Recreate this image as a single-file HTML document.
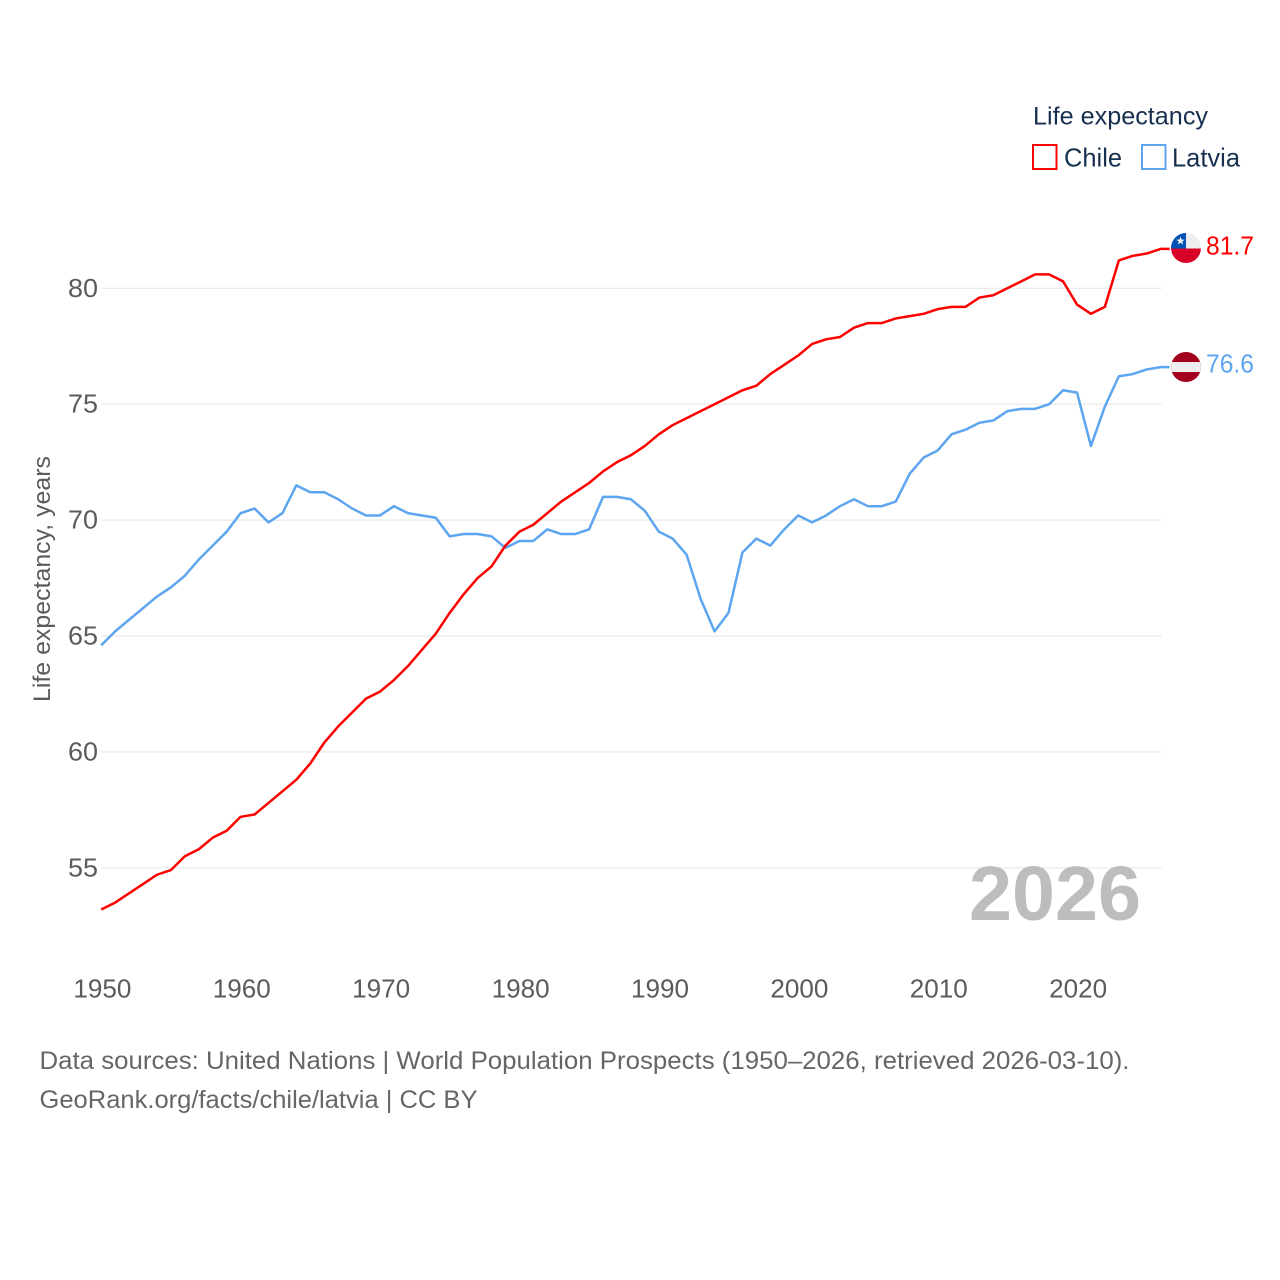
<!DOCTYPE html>
<html lang="en">
<head>
<meta charset="utf-8">
<title>Life expectancy: Chile and Latvia</title>
<style>
html,body{margin:0;padding:0;background:#fff;}
svg{display:block;font-family:"Liberation Sans",sans-serif;}
</style>
</head>
<body>
<svg id="chart" xmlns="http://www.w3.org/2000/svg" width="1280" height="1280" viewBox="0 0 1280 1280">
  <rect width="1280" height="1280" fill="#fff"/>
  <g id="grid"></g>
  <g id="yticks"></g>
  <g id="xticks"></g>
  <text transform="translate(50,702) rotate(-90)" font-size="24.5" fill="#5b5b5b" textLength="246" lengthAdjust="spacingAndGlyphs">Life expectancy, years</text>
  <text x="969" y="920" font-size="77" font-weight="700" fill="#bdbdbd" textLength="172" lengthAdjust="spacingAndGlyphs">2026</text>
  <g id="series"></g>

  <g>
    <text x="1033" y="124.5" font-size="25" fill="#18304f" textLength="175" lengthAdjust="spacingAndGlyphs">Life expectancy</text>
    <g>
      <rect x="1033" y="145" width="23.5" height="24" fill="none" stroke="#ff0000" stroke-width="2"/>
      <text x="1064" y="166.5" font-size="26" fill="#18304f" textLength="58" lengthAdjust="spacingAndGlyphs">Chile</text>
    </g>
    <g>
      <rect x="1142" y="145" width="23.5" height="24" fill="none" stroke="#5da5f0" stroke-width="2"/>
      <text x="1172" y="166.5" font-size="26" fill="#18304f" textLength="68" lengthAdjust="spacingAndGlyphs">Latvia</text>
    </g>
  </g>

  <defs>
    <clipPath id="flag-clip-chile"><circle cx="1186" cy="248" r="15"/></clipPath>
    <clipPath id="flag-clip-latvia"><circle cx="1186" cy="367" r="15"/></clipPath>
  </defs>
  <g clip-path="url(#flag-clip-chile)">
    <rect x="1171" y="233" width="30" height="15.5" fill="#eeeeee"/>
    <rect x="1171" y="233" width="15" height="15.5" fill="#0052b4"/>
    <rect x="1171" y="248.5" width="30" height="15" fill="#d80027"/>
    <polygon points="1180.5,236.5 1181.6,239.6 1184.8,239.6 1182.2,241.6 1183.2,244.6 1180.5,242.8 1177.8,244.6 1178.8,241.6 1176.2,239.6 1179.4,239.6" fill="#f0f0f0"/>
  </g>
  <g clip-path="url(#flag-clip-latvia)">
    <rect x="1171" y="352" width="30" height="30" fill="#a2001d"/>
    <rect x="1171" y="362" width="30" height="10" fill="#eeeeee"/>
  </g>
  <text id="value-chile" x="1206" y="254.5" font-size="26" fill="#ff0000" textLength="48" lengthAdjust="spacingAndGlyphs"></text>
  <text id="value-latvia" x="1206" y="372.5" font-size="26" fill="#5da5f0" textLength="48" lengthAdjust="spacingAndGlyphs"></text>

  <g font-size="25" fill="#666666">
    <text x="39.5" y="1069" textLength="1090" lengthAdjust="spacingAndGlyphs">Data sources: United Nations | World Population Prospects (1950–2026, retrieved 2026-03-10).</text>
    <text x="39.5" y="1108" textLength="438" lengthAdjust="spacingAndGlyphs">GeoRank.org/facts/chile/latvia | CC BY</text>
  </g>
</svg>
<script>
const firstYear = 1950;
const yTickValues = [55, 60, 65, 70, 75, 80];
const xTickValues = [1950, 1960, 1970, 1980, 1990, 2000, 2010, 2020];
const chileValues = [53.2,53.5,53.9,54.3,54.7,54.9,55.5,55.8,56.3,56.6,57.2,57.3,57.8,58.3,58.8,59.5,60.4,61.1,61.7,62.3,62.6,63.1,63.7,64.4,65.1,66.0,66.8,67.5,68.0,68.9,69.5,69.8,70.3,70.8,71.2,71.6,72.1,72.5,72.8,73.2,73.7,74.1,74.4,74.7,75.0,75.3,75.6,75.8,76.3,76.7,77.1,77.6,77.8,77.9,78.3,78.5,78.5,78.7,78.8,78.9,79.1,79.2,79.2,79.6,79.7,80.0,80.3,80.6,80.6,80.3,79.3,78.9,79.2,81.2,81.4,81.5,81.7];
const latviaValues = [64.6,65.2,65.7,66.2,66.7,67.1,67.6,68.3,68.9,69.5,70.3,70.5,69.9,70.3,71.5,71.2,71.2,70.9,70.5,70.2,70.2,70.6,70.3,70.2,70.1,69.3,69.4,69.4,69.3,68.8,69.1,69.1,69.6,69.4,69.4,69.6,71.0,71.0,70.9,70.4,69.5,69.2,68.5,66.6,65.2,66.0,68.6,69.2,68.9,69.6,70.2,69.9,70.2,70.6,70.9,70.6,70.6,70.8,72.0,72.7,73.0,73.7,73.9,74.2,74.3,74.7,74.8,74.8,75.0,75.6,75.5,73.2,74.9,76.2,76.3,76.5,76.6];

const NS = 'http://www.w3.org/2000/svg';
function xScale(year) { return 101.2 + (year - 1950) * 13.94; }
function yScale(value) { return 288.3 + (80 - value) * 23.18; }

const gridGroup = document.getElementById('grid');
const yTickGroup = document.getElementById('yticks');
yTickValues.forEach(function (v) {
  const line = document.createElementNS(NS, 'line');
  
  
  line.setAttribute('x1', 101.5);
  line.setAttribute('x2', 1161.5);
  line.setAttribute('y1', yScale(v));
  line.setAttribute('y2', yScale(v));
  line.setAttribute('stroke', '#e8e8e8');
  line.setAttribute('stroke-width', 1.2);
  gridGroup.appendChild(line);

  const label = document.createElementNS(NS, 'text');
  
  
  label.setAttribute('x', 68);
  label.setAttribute('y', yScale(v) + 8.5);
  label.setAttribute('font-size', 25.5);
  label.setAttribute('fill', '#5b5b5b');
  label.setAttribute('textLength', 30);
  label.setAttribute('lengthAdjust', 'spacingAndGlyphs');
  label.textContent = String(v);
  yTickGroup.appendChild(label);
});

const xTickGroup = document.getElementById('xticks');
xTickValues.forEach(function (y) {
  const label = document.createElementNS(NS, 'text');
  
  
  label.setAttribute('x', xScale(y) - 27.8);
  label.setAttribute('y', 997.5);
  label.setAttribute('font-size', 25.5);
  label.setAttribute('fill', '#5b5b5b');
  label.setAttribute('textLength', 58);
  label.setAttribute('lengthAdjust', 'spacingAndGlyphs');
  label.textContent = String(y);
  xTickGroup.appendChild(label);
});

function drawSeries(values, color, name) {
  const pts = values.map(function (v, i) {
    return xScale(firstYear + i).toFixed(2) + ',' + yScale(v).toFixed(2);
  });
  const lastX = xScale(firstYear + values.length - 1);
  pts.push((lastX + 9).toFixed(2) + ',' + yScale(values[values.length - 1]).toFixed(2));
  const line = document.createElementNS(NS, 'polyline');
  
  
  line.setAttribute('points', pts.join(' '));
  line.setAttribute('fill', 'none');
  line.setAttribute('stroke', color);
  line.setAttribute('stroke-width', 2.5);
  line.setAttribute('stroke-linejoin', 'round');
  document.getElementById('series').appendChild(line);
}
drawSeries(latviaValues, '#5da5f0', 'latvia');
drawSeries(chileValues, '#ff0000', 'chile');

document.getElementById('value-chile').textContent = chileValues[chileValues.length - 1].toFixed(1);
document.getElementById('value-latvia').textContent = latviaValues[latviaValues.length - 1].toFixed(1);
</script>
</body>
</html>
